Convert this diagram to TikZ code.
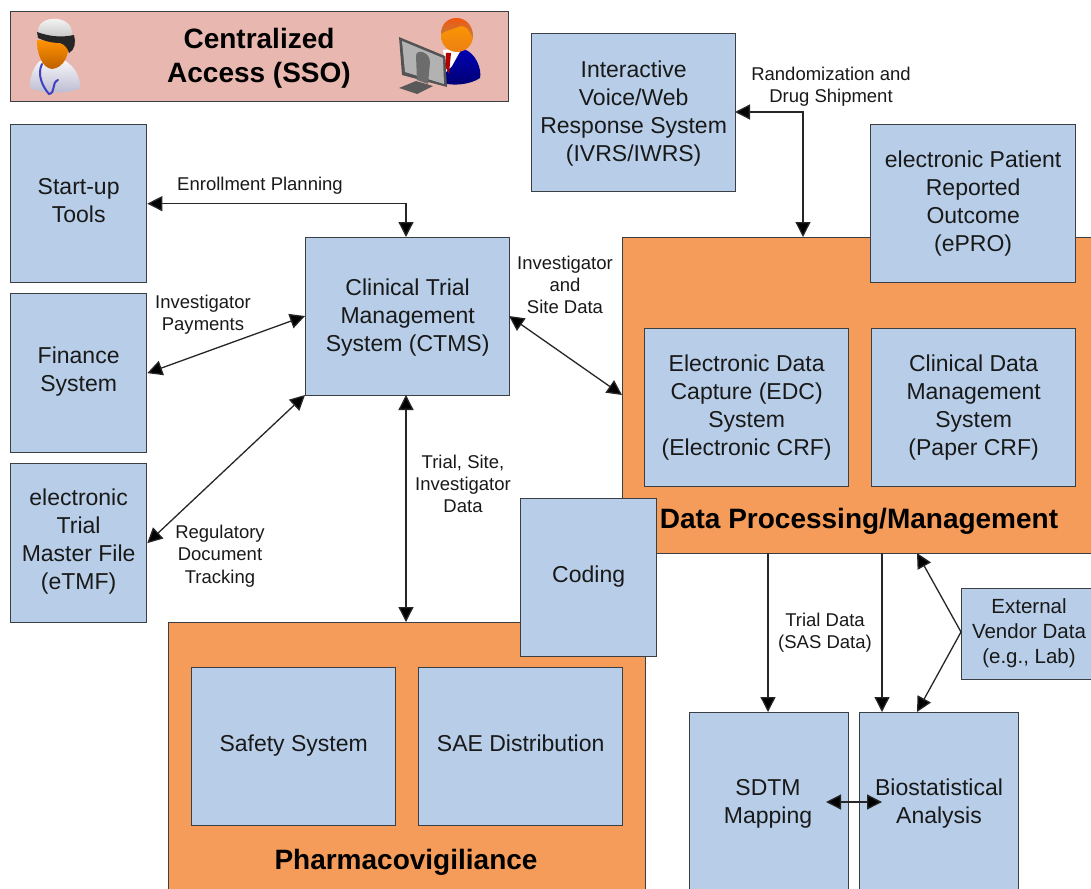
\documentclass[tikz,border=0pt]{standalone}
\usepackage{fontspec}
\setmainfont{Liberation Sans}
\usetikzlibrary{arrows.meta}
\definecolor{boxblue}{HTML}{B8CEE8}
\definecolor{boxorange}{HTML}{F59C5A}
\definecolor{boxpink}{HTML}{E8B8B0}
\definecolor{edgegrey}{HTML}{3A3F44}
\tikzset{
 x=1pt,y=-1pt,
 bluebox/.style={draw=edgegrey,line width=1.3pt,fill=boxblue,inner sep=0pt,align=center,font=\fontsize{23}{28}\selectfont,text=black!90},
 orangebox/.style={draw=edgegrey,line width=1.3pt,fill=boxorange,inner sep=0pt},
 pinkbox/.style={draw=edgegrey,line width=1.4pt,fill=boxpink,inner sep=0pt},
 lab/.style={align=center,inner sep=0pt,font=\fontsize{18.5}{22.3}\selectfont,text=black!90},
 boldlab/.style={align=center,inner sep=0pt,font=\bfseries\fontsize{28}{34}\selectfont},
 conn/.style={draw=black!85,line width=1.3pt,-{Triangle[length=15pt,width=15pt,fill=black]}},
 bothconn/.style={draw=black!85,line width=1.3pt,{Triangle[length=15pt,width=15pt,fill=black]}-{Triangle[length=15pt,width=15pt,fill=black]}},
}
\newcommand{\tsr}[1]{\rule{0pt}{#1pt}}
\newcommand{\dpr}{\rule[-8.4pt]{0pt}{8.4pt}}
\newcommand{\blk}[6][bluebox]{\node[#1,anchor=north west,minimum width=#4pt,minimum height=#5pt] (#2) at (#3) {#6};}
\begin{document}
\begin{tikzpicture}
\useasboundingbox (0,0) rectangle (1091,888);
\clip (0,0) rectangle (1091,888);
\fill[white] (0,0) rectangle (1091,888);
% SSO
\blk[pinkbox]{sso}{10,11}{498}{90}{}
\node[boldlab] (ssotext) at (259,58) {Centralized\\Access (SSO)};
% doctor icon
\shade[top color=white,bottom color=blue!20!gray!45] (30,88) .. controls (30,70) and (37,60) .. (50,55) .. controls (68,58) and (81,72) .. (80,88) .. controls (70,94) and (40,94) .. (30,88) -- cycle;
\shade[top color=orange!85!yellow,bottom color=orange!75!black] (37,40) -- (68,42) .. controls (70,54) and (64,68) .. (52,69) .. controls (42,68) and (37,54) .. (37,40) -- cycle;
\shade[top color=white,bottom color=gray!45] (38,33) .. controls (36,14) and (72,14) .. (72,33) -- (72,36) .. controls (60,38) and (48,36) .. (38,33) -- cycle;
\fill[black!85] (37,32) .. controls (48,36) and (60,38) .. (74,35) .. controls (76,42) and (75,50) .. (69,53) .. controls (68,48) and (64,44) .. (60,43) .. controls (52,43) and (44,41) .. (38,38) -- cycle;
\draw[blue!50!gray,line width=2pt,line cap=round] (42,64) .. controls (37,74) and (42,86) .. (49,94) .. controls (56,93) and (51,83) .. (58,80);
% user icon
\shade[top color=blue!70!black,bottom color=blue!45!black] (443,83) .. controls (442,62) and (450,50) .. (463,49) .. controls (476,52) and (482,70) .. (480,78) .. controls (470,85) and (452,86) .. (443,83) -- cycle;
\fill[white] (443,50) -- (462,48) -- (452,66) -- (446,72) -- cycle;
\fill[red!70!black] (446,53) -- (451,53) -- (449,74) -- (445,66) -- cycle;
\shade[top color=orange!80!yellow,bottom color=orange!70!brown] (457,36) circle[radius=16];
\shade[top color=orange!60!red,bottom color=brown] (441,34) .. controls (441,12) and (474,12) .. (473,38) .. controls (468,28) and (466,26) .. (460,26) .. controls (452,30) and (446,30) .. (441,34) -- cycle;
\fill[gray!65!black] (399,37) -- (445,56) -- (447,87) -- (402,75) -- cycle;
\fill[gray!60] (402,41) -- (443,58) -- (444,84) -- (405,72) -- cycle;
\fill[gray!85!black] (416,56) .. controls (416,48) and (430,52) .. (430,62) -- (428,84) -- (417,80) -- cycle;
\fill[gray!70!black] (399,88) -- (416,81) -- (433,86) -- (417,94) -- cycle;
% left column
\blk{start}{10,124}{136}{158}{\tsr{17.6}Start-up\\Tools\dpr}
\blk{fin}{10,293}{136}{159}{\tsr{17.6}Finance\\System\dpr}
\blk{etmf}{10,463}{136}{159}{\tsr{15.6}electronic\\Trial\\Master File\\(eTMF)\dpr}
\blk{ctms}{305,237}{204}{158}{\tsr{21.6}Clinical Trial\\Management\\System (CTMS)\dpr}
\blk{ivrs}{531,33}{204}{158}{\tsr{21.6}Interactive\\Voice/Web\\Response System\\(IVRS/IWRS)\dpr}
% data processing
\blk[orangebox]{dp}{622,237}{490}{316}{}
\blk{epro}{870,124}{205}{158}{\tsr{19.6}electronic Patient\\Reported\\Outcome\\(ePRO)\dpr}
\blk{edc}{644,328}{204}{158}{\tsr{19.6}Electronic Data\\Capture (EDC)\\System\\(Electronic CRF)\dpr}
\blk{cdms}{871,328}{204}{158}{\tsr{19.6}Clinical Data\\Management\\System\\(Paper CRF)\dpr}
\node[boldlab] (dptext) at (859,521) {Data Processing/Management};
% pharmacovigilance
\blk[orangebox]{pv}{168,622}{477}{290}{}
\blk{safety}{191,667}{204}{158}{\tsr{17.6}Safety System\dpr}
\blk{sae}{418,667}{204}{158}{\tsr{17.6}SAE Distribution\dpr}
\node[boldlab] (pvtext) at (406,862) {Pharmacovigiliance};
\blk{coding}{520,498}{136}{158}{\tsr{17.6}Coding\dpr}
% lower right
\blk{ext}{961,588}{140}{91}{}
\node[lab,font=\fontsize{20.5}{25}\selectfont] (exttext) at (1029,633) {External\\Vendor Data\\(e.g., Lab)};
\blk{sdtm}{689,712}{159}{190}{}
\blk{bio}{859,712}{159}{190}{}
\node[bluebox,draw=none,fill=none] (sdtmtext) at (768,804) {\tsr{19.6}SDTM\\Mapping\dpr};
\node[bluebox,draw=none,fill=none] (biotext) at (939,804) {\tsr{19.6}Biostatistical\\Analysis\dpr};
% connectors
\coordinate (ctmsTop) at (406,237);
\coordinate (ctmsL1) at (305,316);
\coordinate (ctmsBL) at (305,395);
\coordinate (ctmsR) at (509,316);
\coordinate (dpL) at (622,395);
\coordinate (ctmsB) at (406,395);
\coordinate (pvT) at (406,622);
\coordinate (ivrsR) at (735,112);
\coordinate (dpT) at (803,237);
\coordinate (extW) at (961,632);
\draw[bothconn] (start.east) -- (ctmsTop |- start.east) -- (ctmsTop);
\draw[bothconn] (fin.east) -- (ctmsL1);
\draw[bothconn] (etmf.east) -- (ctmsBL);
\draw[bothconn] (ctmsR) -- (dpL);
\draw[bothconn] (ctmsB) -- (pvT);
\draw[bothconn] (ivrsR) -- (dpT |- ivrsR) -- (dpT);
\draw[conn] (768,553) -- (768,712);
\draw[conn] (882,553) -- (882,712);
\draw[conn] (extW) -- (917,553);
\draw[conn] (extW) -- (917,712);
\draw[bothconn] (826,802) -- (882,802);
% labels
\node[lab] (l1) at (260,186) {Enrollment Planning};
\node[lab] (l2) at (203,315) {Investigator\\Payments};
\node[lab] (l3) at (220,556) {Regulatory\\Document\\Tracking};
\node[lab] (l4) at (565,285) {Investigator\\and\\Site Data};
\node[lab] (l5) at (463,484) {Trial, Site,\\Investigator\\Data};
\node[lab] (l6) at (831,87) {Randomization and\\Drug Shipment};
\node[lab] (l7) at (825,633) {Trial Data\\(SAS Data)};
\end{tikzpicture}
\end{document}
